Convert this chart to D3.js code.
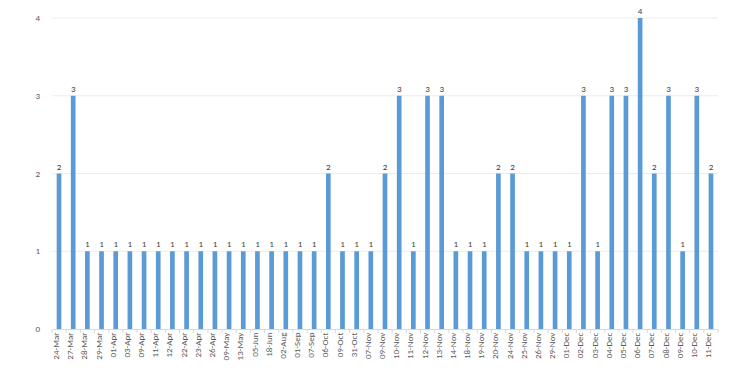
<!DOCTYPE html>
<html>
<head>
<meta charset="utf-8">
<script src="https://cdn.jsdelivr.net/npm/d3@7"></script>
<style>
body{margin:0;background:#fff;}
text{font-family:Calibri,"Liberation Sans",Arial,sans-serif;}
</style>
</head>
<body>
<div class="mainView"></div>
<script>
let dates = ["24-Mar","27-Mar","28-Mar","29-Mar","01-Apr","03-Apr","09-Apr","11-Apr","12-Apr","22-Apr","23-Apr","26-Apr","09-May","13-May","05-Jun","18-Jun","02-Aug","01-Sep","07-Sep","06-Oct","09-Oct","31-Oct","07-Nov","09-Nov","10-Nov","11-Nov","12-Nov","13-Nov","14-Nov","18-Nov","19-Nov","20-Nov","24-Nov","25-Nov","26-Nov","29-Nov","01-Dec","02-Dec","03-Dec","04-Dec","05-Dec","06-Dec","07-Dec","08-Dec","09-Dec","10-Dec","11-Dec"]
let counts = [2,3,1,1,1,1,1,1,1,1,1,1,1,1,1,1,1,1,1,2,1,1,1,2,3,1,3,3,1,1,1,2,2,1,1,1,1,3,1,3,3,4,2,3,1,3,2]
let yTicks = [0,1,2,3,4]

function draw(){
    let width = 743, height = 378
    let margin = {top:18, left:52, right:25, bottom:49}
    let bodyWidth = width - margin.left - margin.right
    let bodyHeight = height - margin.top - margin.bottom
    let svg = d3.select(".mainView").append("svg")
        .attr("width", width).attr("height", height)
    let g = svg.append("g").attr("transform","translate("+[margin.left,margin.top]+")")

    let xScale = d3.scaleBand().domain(dates).range([0,bodyWidth]).paddingInner(0.67).paddingOuter(0.33)
    let yScale = d3.scaleLinear().domain([0,4]).range([bodyHeight,0])

    // gridlines
    g.selectAll(".grid").data(yTicks.slice(1)).enter().append("line")
        .attr("x1",0).attr("x2",bodyWidth)
        .attr("y1",d=>yScale(d)).attr("y2",d=>yScale(d))
        .attr("stroke","#ececec").attr("stroke-width",1)

    // y labels
    g.selectAll(".ylab").data(yTicks).enter().append("text")
        .attr("x",-12).attr("y",d=>yScale(d)+3)
        .attr("text-anchor","end")
        .style("font-size","9px").style("fill","#595959")
        .text(d=>d)

    // bars
    g.selectAll("rect").data(dates).enter().append("rect")
        .attr("x",d=>xScale(d))
        .attr("width",xScale.bandwidth())
        .attr("y",(d,i)=>yScale(counts[i]))
        .attr("height",(d,i)=>bodyHeight-yScale(counts[i]))
        .attr("fill","#5b9bd5")

    // value labels
    g.selectAll(".vlab").data(dates).enter().append("text")
        .attr("x",d=>xScale(d)+xScale.bandwidth()/2)
        .attr("y",(d,i)=>yScale(counts[i])-4)
        .attr("text-anchor","middle")
        .style("font-size","9px").style("fill","#404040")
        .text((d,i)=>counts[i])

    // x axis
    let axisX = d3.axisBottom(xScale).tickSize(0).tickPadding(5)
    let ax = g.append("g").attr("transform","translate(0,"+bodyHeight+")").call(axisX)
    ax.select(".domain").attr("stroke","#d9d9d9")
    ax.selectAll("text")
        .style("font-size","9px").style("fill","#595959")
        .style("text-anchor","end")
        .attr("dx","-0.4em").attr("dy","-0.55em")
        .attr("transform","rotate(-90)")
    // little tick marks between categories
    let step = xScale.step()
    ax.selectAll(".sep").data(d3.range(dates.length+1)).enter().append("line")
        .attr("x1",d=>d*step).attr("x2",d=>d*step)
        .attr("y1",0).attr("y2",4)
        .attr("stroke","#d9d9d9")
}
draw()
</script>
</body>
</html>
